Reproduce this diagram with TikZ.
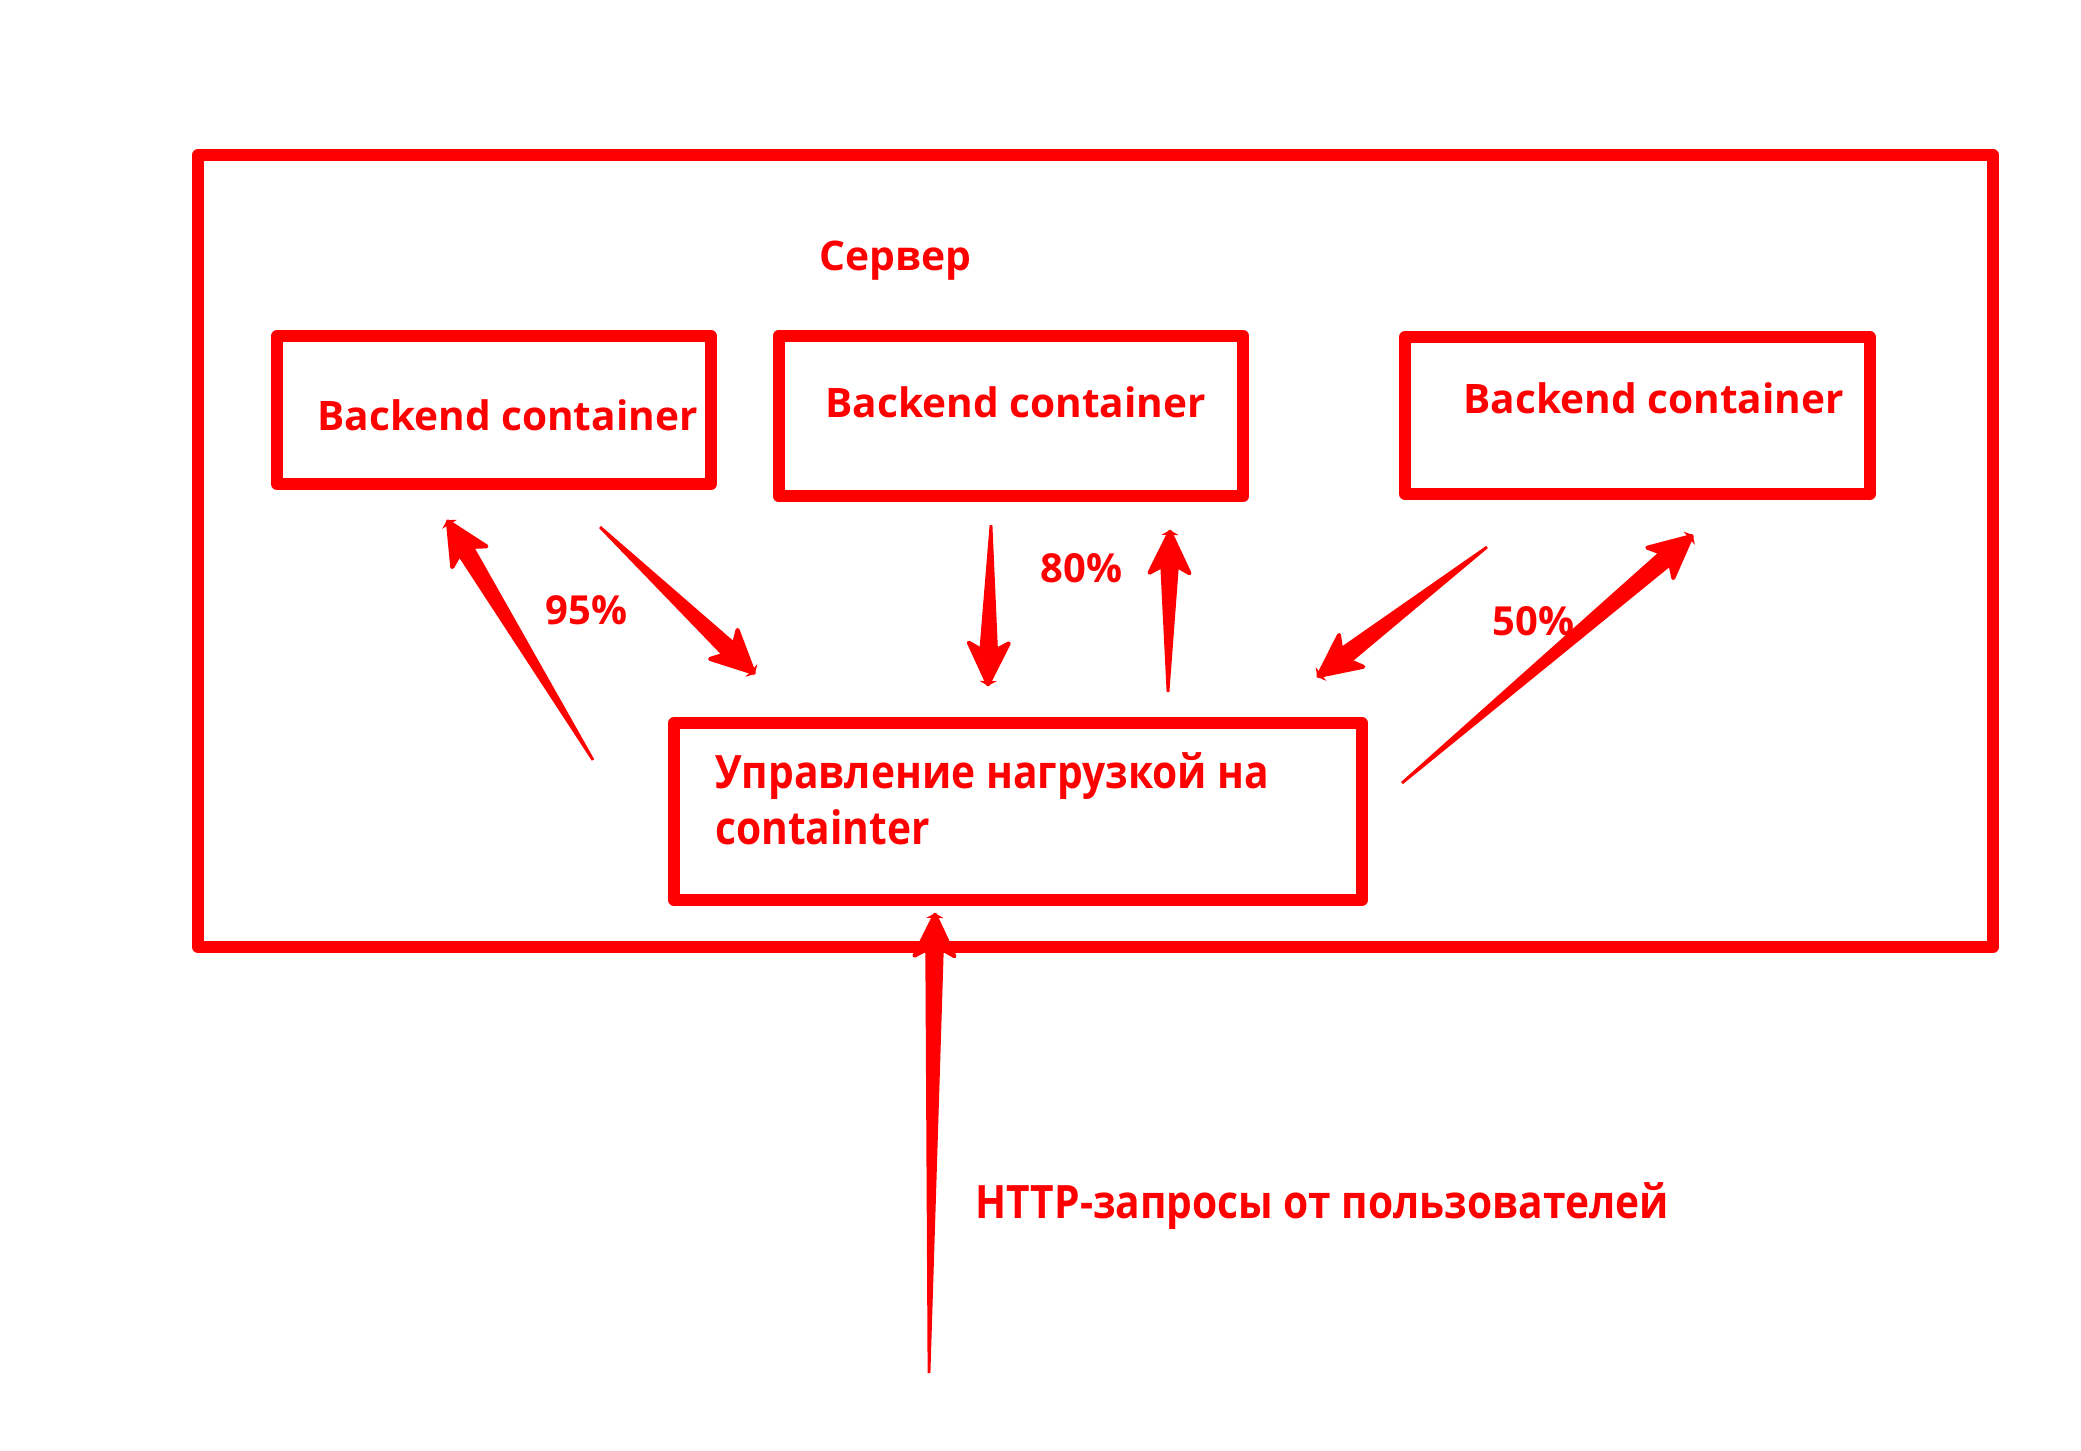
\documentclass[tikz,border=0pt]{standalone}
\usepackage{fontspec}
\setmainfont{Open Sans}
\newfontfamily\condfont{Open Sans}[FakeStretch=0.885]
\usetikzlibrary{calc}
\tikzset{
  frame/.style={draw=red, line width=6pt, line join=round, inner sep=0pt},
  lbltext/.style={inner sep=0pt, anchor=base west, text=red},
  shaftfill/.style={fill=red},
  headfill/.style={fill=red, draw=red, line width=2pt, line join=round},
}
\newcommand\fBack{\fontsize{20.3}{24}\selectfont\bfseries}
\newcommand\fServ{\fontsize{20.4}{24}\selectfont\bfseries}
\newcommand\fPct{\fontsize{20}{24}\selectfont\bfseries}
\newcommand\fCond{\condfont\fontsize{23}{27}\selectfont\bfseries}
\newcommand\tapered[2]{%
  \coordinate (tb) at ($(#2)!21.5pt!(#1)$);
  \coordinate (tj) at ($(#2)!18.5pt!(#1)$);
  \fill[shaftfill] ($(#1)!0.7pt!90:(#2)$) -- ($(tj)!4.6pt!90:(#2)$) -- ($(tj)!4.6pt!-90:(#2)$) -- ($(#1)!0.7pt!-90:(#2)$) -- cycle;
  \filldraw[headfill] ($(#2)!0.8pt!(#1)$) -- ($(tb)!10pt!90:(#2)$) -- ($(tj)!4.6pt!90:(#2)$)
    -- ($(tj)!4.6pt!-90:(#2)$) -- ($(tb)!10pt!-90:(#2)$) -- cycle;
  \fill[shaftfill] ($(#2)!0.1pt!(#1)$) -- ($(#2)!5pt!60:(#1)$) -- ($(#2)!5pt!-60:(#1)$) -- cycle;
}
\begin{document}
\begin{tikzpicture}[x=0.5pt,y=-0.5pt]
\useasboundingbox[fill=white] (0,0) rectangle (2081,1450);
% frames
\node[frame, minimum width=1795*0.5pt, minimum height=792*0.5pt] (server) at (1095.5,551) {};
\node[frame, minimum width=434*0.5pt, minimum height=148*0.5pt] (b1) at (494,410) {};
\node[frame, minimum width=464.5*0.5pt, minimum height=160.5*0.5pt] (b2) at (1011,416) {};
\node[frame, minimum width=465*0.5pt, minimum height=157*0.5pt] (b3) at (1637.5,415.5) {};
\node[frame, minimum width=688*0.5pt, minimum height=177*0.5pt] (lb) at (1018,811.5) {};
% arrow end points
\coordinate (aT) at (593,760);  \coordinate (aH) at (447,520);
\coordinate (bT) at (600,527);  \coordinate (bH) at (755,674);
\coordinate (cT) at (991,525);  \coordinate (cH) at (988,686);
\coordinate (dT) at (1168,692); \coordinate (dH) at (1170,530);
\coordinate (eT) at (1487,547); \coordinate (eH) at (1317,677);
\coordinate (fT) at (1402,783); \coordinate (fH) at (1693,535);
\coordinate (gT) at (929,1373); \coordinate (gH) at (935,913);
\tapered{aT}{aH}
\tapered{bT}{bH}
\tapered{cT}{cH}
\tapered{dT}{dH}
\tapered{eT}{eH}
\tapered{fT}{fH}
\tapered{gT}{gH}
% labels
\node[lbltext, font=\fServ] (tServ) at (819,270) {Сервер};
\node[lbltext, font=\fBack] (tB1) at (317,430) {Backend container};
\node[lbltext, font=\fBack] (tB2) at (825,417) {Backend container};
\node[lbltext, font=\fBack] (tB3) at (1463,413) {Backend container};
\node[lbltext, font=\fPct] (t95) at (545,624) {95\%};
\node[lbltext, font=\fPct] (t80) at (1040,582) {80\%};
\node[lbltext, font=\fPct] (t50) at (1492,635) {50\%};
\node[lbltext, font=\fCond] (tL1) at (715,788) {Управление нагрузкой на};
\node[lbltext, font=\fCond] (tL2) at (715,844) {containter};
\node[lbltext, font=\fCond] (tH) at (975,1218) {HTTP-запросы от пользователей};
\end{tikzpicture}
\end{document}
